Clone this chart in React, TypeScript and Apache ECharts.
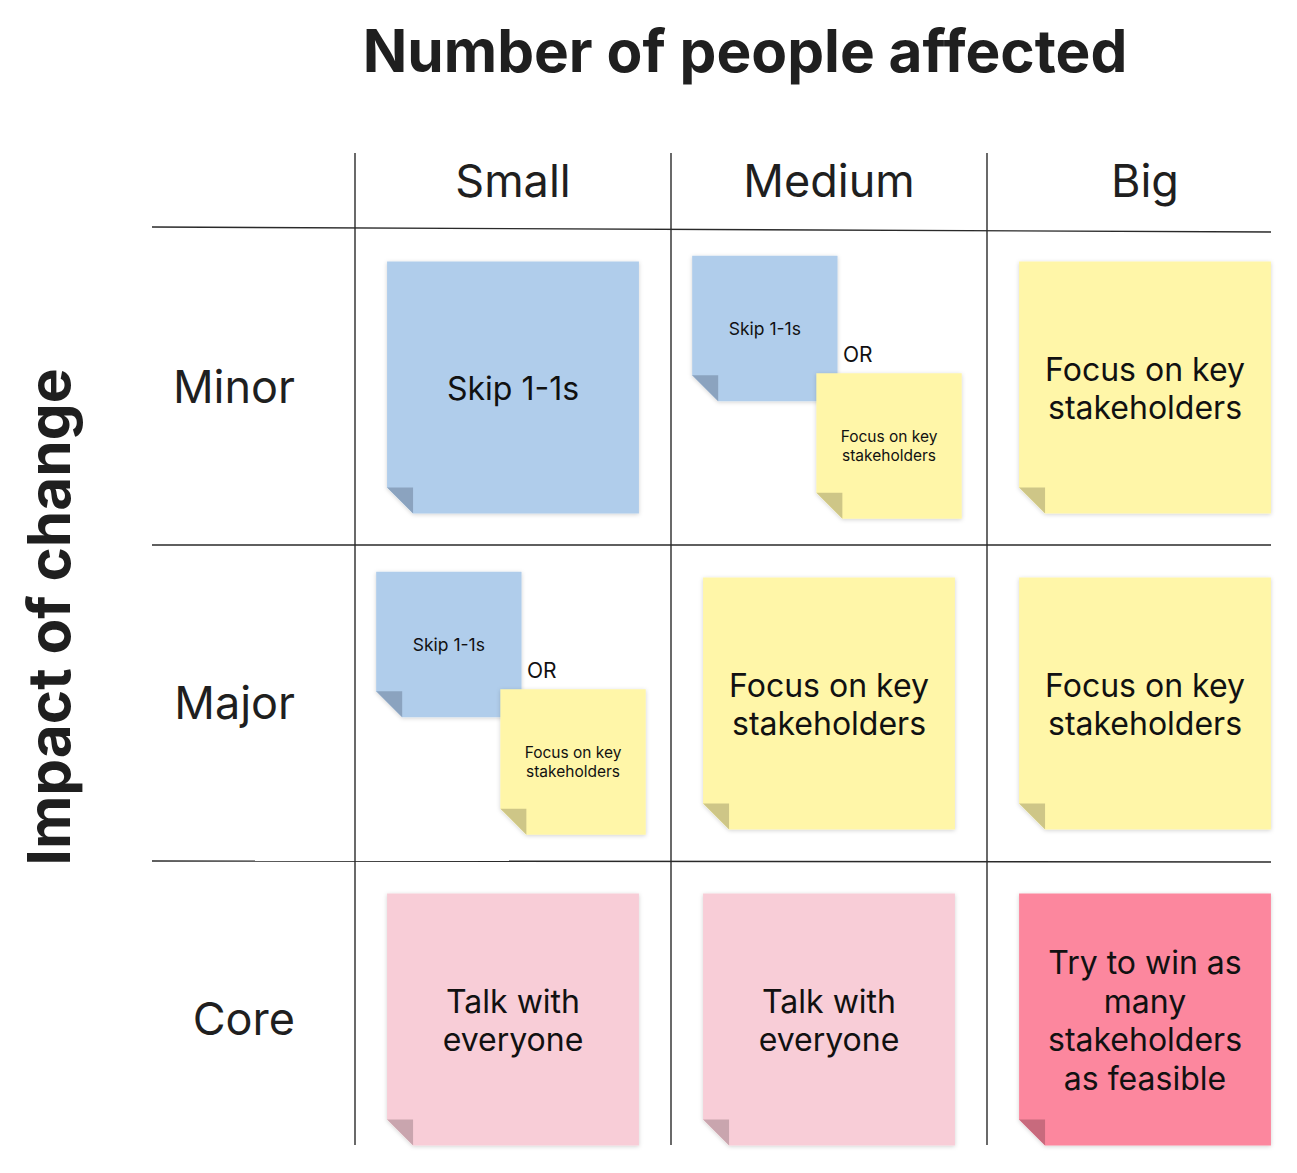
import React, { useEffect, useRef } from "react";
import * as echarts from "echarts";

// ---- data ----
const COLUMNS = ["Small", "Medium", "Big"];
const ROWS = ["Minor", "Major", "Core"];
const X_TITLE = "Number of people affected";
const Y_TITLE = "Impact of change";
const CONNECTOR = "OR";

const NOTE_COL = [0, 1, 1, 2, 0, 0, 1, 2, 0, 1, 2];
const NOTE_ROW = [0, 0, 0, 0, 1, 1, 1, 1, 2, 2, 2];
const NOTE_TEXT = [
  "Skip 1-1s",
  "Skip 1-1s",
  "Focus on key\nstakeholders",
  "Focus on key\nstakeholders",
  "Skip 1-1s",
  "Focus on key\nstakeholders",
  "Focus on key\nstakeholders",
  "Focus on key\nstakeholders",
  "Talk with\neveryone",
  "Talk with\neveryone",
  "Try to win as\nmany\nstakeholders\nas feasible",
];
const NOTE_KIND = ["blue", "blue", "yellow", "yellow", "blue", "yellow", "yellow", "yellow", "pink", "pink", "red"];
const NOTE_SLOT = ["single", "first", "second", "single", "first", "second", "single", "single", "single", "single", "single"];

// ---- styles ----
const PALETTE: Record<string, { fill: string; fold: string }> = {
  blue: { fill: "#B0CDEB", fold: "#8BA3BF" },
  yellow: { fill: "#FFF6A8", fold: "#CEC687" },
  pink: { fill: "#F8CDD7", fold: "#C9A5AE" },
  red: { fill: "#FC879E", fold: "#C86A7D" },
};
const FONT = "Inter, 'Noto Sans', sans-serif";
const INK = "#1f1f1f";

const W = 1297;
const H = 1173;
const CANVAS_W = 1320;
const CANVAS_H = 1200;
const GRID_LEFT = 355;
const GRID_TOP = 228;
const CELL = 316;

export default function App() {
  const ref = useRef<HTMLDivElement>(null);
  useEffect(() => {
    document.body.style.margin = "0";
    document.body.style.overflow = "hidden";
    const chart = echarts.init(ref.current!, null, { renderer: "svg" });

    const lineStyle = { stroke: "#2a2a2a", lineWidth: 1.4 };
    const gridLines: any[] = [];
    for (let i = 0; i < 3; i++) {
      const x = GRID_LEFT + i * CELL;
      gridLines.push({ type: "line", silent: true, shape: { x1: x, y1: 153, x2: x, y2: 1145 }, style: lineStyle });
    }
    const slants = [5, 0, 1];
    for (let j = 0; j < 3; j++) {
      const y = GRID_TOP + j * CELL + (j === 0 ? -1 : 1);
      gridLines.push({
        type: "line",
        silent: true,
        shape: { x1: 152, y1: y, x2: 1271, y2: y + slants[j] },
        style: lineStyle,
      });
    }

    const renderItem = (params: any, api: any) => {
      const idx = api.value(2);
      const [cx, cy] = api.coord([api.value(0), api.value(1)]);
      const [cw] = api.size([1, 1]);
      const slot = NOTE_SLOT[idx];
      const pal = PALETTE[NOTE_KIND[idx]];
      let size: number, ox: number, oy: number, fs: number, lh: number;
      if (slot === "single") {
        size = cw * 0.797;
        ox = 0;
        oy = 1.5;
        fs = 32;
        lh = 38.5;
      } else if (slot === "first") {
        size = cw * 0.46;
        ox = -cw * 0.203;
        oy = -cw * 0.182;
        fs = 17.5;
        lh = 20;
      } else {
        size = cw * 0.46;
        ox = cw * 0.19;
        oy = cw * 0.19;
        fs = 15.5;
        lh = 19.5;
      }
      const nx = cx + ox - size / 2;
      const ny = cy + oy - size / 2;
      const f = 26;
      const children: any[] = [
        {
          type: "polygon",
          shape: {
            points: [
              [nx, ny],
              [nx + size, ny],
              [nx + size, ny + size],
              [nx + f, ny + size],
              [nx, ny + size - f],
            ],
          },
          style: {
            fill: pal.fill,
            shadowBlur: 4,
            shadowColor: "rgba(0,0,0,0.18)",
            shadowOffsetY: 1,
          },
        },
        {
          type: "polygon",
          shape: {
            points: [
              [nx, ny + size - f],
              [nx + f, ny + size - f],
              [nx + f, ny + size],
            ],
          },
          style: { fill: pal.fold },
        },
        {
          type: "text",
          style: {
            text: NOTE_TEXT[idx],
            x: nx + size / 2,
            y: ny + size / 2 + (slot === "single" ? 1 : 0),
            align: "center",
            verticalAlign: "middle",
            fontFamily: FONT,
            fontSize: fs,
            lineHeight: lh,
            fill: "#111",
          },
        },
      ];
      if (slot === "second") {
        children.push({
          type: "text",
          style: {
            text: CONNECTOR,
            x: cx + 14,
            y: cy - 32,
            align: "left",
            verticalAlign: "middle",
            fontFamily: FONT,
            fontSize: 21,
            fill: "#111",
          },
        });
      }
      return { type: "group", children };
    };

    chart.setOption({
      animation: false,
      backgroundColor: "#ffffff",
      grid: { left: GRID_LEFT, top: GRID_TOP, width: CELL * 3, height: CELL * 3 },
      xAxis: {
        type: "category",
        data: COLUMNS,
        position: "top",
        axisLine: { show: false },
        axisTick: { show: false },
        splitLine: { show: false },
        axisLabel: {
          fontFamily: FONT,
          fontSize: 45,
          lineHeight: 45,
          color: INK,
          margin: 25,
        },
      },
      yAxis: {
        type: "category",
        data: ROWS,
        inverse: true,
        axisLine: { show: false },
        axisTick: { show: false },
        splitLine: { show: false },
        axisLabel: {
          fontFamily: FONT,
          fontSize: 45,
          color: INK,
          margin: 60,
        },
      },
      graphic: [
        ...gridLines,
        {
          type: "text",
          silent: true,
          style: {
            text: X_TITLE,
            x: 745,
            y: 50,
            align: "center",
            verticalAlign: "middle",
            fontFamily: FONT,
            fontWeight: "bold",
            fontSize: 58.5,
            fill: INK,
          },
        },
        {
          type: "text",
          silent: true,
          x: 48,
          y: 617,
          rotation: Math.PI / 2,
          style: {
            text: Y_TITLE,
            x: 0,
            y: 0,
            align: "center",
            verticalAlign: "middle",
            fontFamily: FONT,
            fontWeight: "bold",
            fontSize: 58.5,
            fill: INK,
          },
        },
      ],
      series: [
        {
          type: "custom",
          coordinateSystem: "cartesian2d",
          renderItem,
          encode: { x: 0, y: 1 },
          data: NOTE_COL.map((c, i) => [c, NOTE_ROW[i], i]),
        },
      ],
    });
    return () => chart.dispose();
  }, []);
  return (
    <div style={{ width: W, height: H, overflow: "hidden", position: "relative" }}>
      <div ref={ref} style={{ width: CANVAS_W, height: CANVAS_H }} />
    </div>
  );
}
